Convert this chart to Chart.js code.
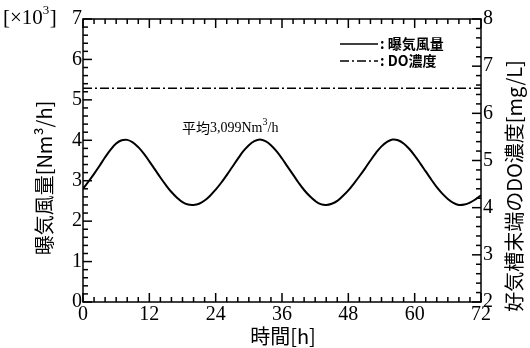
<!DOCTYPE html>
<html>
<head>
<meta charset="utf-8">
<script src="https://cdn.jsdelivr.net/npm/chart.js@4"></script>
<style>
  html, body { margin: 0; padding: 0; background: #fff; }
  #wrap { width: 530px; height: 348px; }
</style>
</head>
<body>
<div id="wrap"><canvas id="myChart" width="530" height="348"></canvas></div>
<script>
// 時間[h]
const hours = [0,1,2,3,4,5,6,7,8,9,10,11,12,13,14,15,16,17,18,19,20,21,22,23,24,
  25,26,27,28,29,30,31,32,33,34,35,36,37,38,39,40,41,42,43,44,45,46,47,48,
  49,50,51,52,53,54,55,56,57,58,59,60,61,62,63,64,65,66,67,68,69,70,71,72];
// 曝気風量 [x10^3 Nm3/h]
const airflow = [2.80,2.98,3.17,3.37,3.58,3.77,3.92,4.00,4.01,3.95,3.83,3.67,3.48,3.28,3.08,2.89,2.72,2.58,2.47,2.41,2.40,2.43,2.51,2.63,2.78,
  2.95,3.14,3.34,3.54,3.73,3.88,3.98,4.02,3.98,3.88,3.73,3.55,3.35,3.15,2.95,2.77,2.62,2.50,2.42,2.40,2.43,2.50,2.62,2.76,
  2.93,3.11,3.30,3.50,3.69,3.85,3.96,4.02,4.00,3.92,3.79,3.62,3.43,3.23,3.03,2.84,2.68,2.55,2.45,2.40,2.41,2.46,2.54,2.64];
// DO濃度 [mg/L]
const doHours = [0, 72];
const doConc = [6.53, 6.53];

const xTicks = [0, 12, 24, 36, 48, 60, 72];
const leftTicks = [0, 1, 2, 3, 4, 5, 6, 7];
const rightTicks = [2, 3, 4, 5, 6, 7, 8];

const serif = "'Liberation Serif', 'DejaVu Serif', serif";
const cjk = "'Noto Sans CJK JP', sans-serif";

function tickLine(c, x1, y1, x2, y2) {
  c.beginPath();
  c.moveTo(x1, y1);
  c.lineTo(x2, y2);
  c.stroke();
}

/*目盛り・枠・凡例・軸タイトル*/
const decor = {
  id: 'decor',
  afterDraw(chart) {
    const c = chart.ctx;
    const a = chart.chartArea;
    const x = chart.scales.x, yl = chart.scales.y, yr = chart.scales.y2;
    c.save();
    c.setLineDash([]);
    c.strokeStyle = '#000';
    c.fillStyle = '#000';
    c.lineWidth = 1.5;
    c.strokeRect(a.left, a.top, a.right - a.left, a.bottom - a.top);
    for (let k = 0; k <= 36; k++) {
      const px = x.getPixelForValue(k * 2);
      const len = (k % 6 === 0) ? 9 : 5;
      tickLine(c, px, a.bottom, px, a.bottom - len);
      tickLine(c, px, a.top, px, a.top + len);
    }
    for (let i = 0; i <= 35; i++) {
      const py = yl.getPixelForValue(i * 0.2);
      const len = (i % 5 === 0) ? 9 : 5;
      tickLine(c, a.left, py, a.left + len, py);
    }
    for (let i = 0; i <= 30; i++) {
      const py = yr.getPixelForValue(2 + i * 0.2);
      const len = (i % 5 === 0) ? 9 : 5;
      tickLine(c, a.right, py, a.right - len, py);
    }

    // 凡例
    const ds = chart.data.datasets;
    c.font = 'bold 14px ' + cjk;
    c.textBaseline = 'middle';
    const lx = 340, rows = [44, 61];
    ds.forEach((d, i) => {
      c.lineWidth = 1.5;
      c.setLineDash(d.borderDash || []);
      tickLine(c, lx, rows[i], lx + 38, rows[i]);
      c.setLineDash([]);
      c.fillText(': ' + d.label, lx + 40, rows[i]);
    });

    // 平均
    let tx = 182;
    const ty = 128;
    c.font = '14px ' + cjk;
    c.fillText('平均', tx, ty);
    tx += c.measureText('平均').width;
    c.font = '14px ' + serif;
    c.fillText('3,099Nm', tx, ty);
    tx += c.measureText('3,099Nm').width;
    c.font = '10px ' + serif;
    c.fillText('3', tx, ty - 6);
    tx += c.measureText('3').width;
    c.font = '14px ' + serif;
    c.fillText('/h', tx, ty);

    // [×10³]
    c.font = '21px ' + serif;
    c.textBaseline = 'alphabetic';
    c.fillText('[×10', 3, 24);
    const w = c.measureText('[×10').width;
    c.font = '13px ' + serif;
    c.fillText('3', 3 + w, 14);
    c.font = '21px ' + serif;
    c.fillText(']', 3 + w + 7, 24);

    // 軸タイトル
    c.textAlign = 'center';
    c.textBaseline = 'middle';
    c.font = '20px ' + cjk;
    c.fillText('時間[h]', 283, 336);
    c.save();
    c.translate(44, 178);
    c.rotate(-Math.PI / 2);
    c.fillText('曝気風量[Nm³/h]', 0, 0);
    c.restore();
    c.save();
    c.translate(514, 186);
    c.rotate(-Math.PI / 2);
    c.fillText('好気槽末端のDO濃度[mg/L]', 0, 0);
    c.restore();
    c.restore();
  }
};

const ctx1 = document.getElementById('myChart').getContext('2d');

const config1 = {
  type: 'line',
  data: {
    datasets: [
      {
        label: '曝気風量',
        data: hours.map((h, i) => ({ x: h, y: airflow[i] })),
        borderColor: '#000',
        borderWidth: 2,
        pointRadius: 0,
        tension: 0.4,
        yAxisID: 'y',
      },
      {
        label: 'DO濃度',
        data: doHours.map((h, i) => ({ x: h, y: doConc[i] })),
        borderColor: '#000',
        borderWidth: 1.5,
        borderDash: [9, 3, 2, 3],
        pointRadius: 0,
        yAxisID: 'y2',
      },
    ],
  },
  options: {
    responsive: false,
    animation: false,
    layout: { padding: { top: 19, right: 0, left: 0, bottom: 0 } },
    plugins: { legend: { display: false }, tooltip: { enabled: false } },
    scales: {
      x: {
        type: 'linear', min: 0, max: 72,
        afterFit(s) { s.height = 46; },
        afterBuildTicks(s) { s.ticks = xTicks.map(v => ({ value: v })); },
        grid: { display: false, drawTicks: false },
        border: { display: false },
        ticks: { color: '#000', padding: 1, font: { family: serif, size: 20 }, maxRotation: 0 },
      },
      y: {
        position: 'left', min: 0, max: 7,
        afterFit(s) { s.width = 83; },
        afterBuildTicks(s) { s.ticks = leftTicks.map(v => ({ value: v })); },
        grid: { display: false, drawTicks: false },
        border: { display: false },
        ticks: { color: '#000', padding: 1, font: { family: serif, size: 20 } },
      },
      y2: {
        position: 'right', min: 2, max: 8,
        afterFit(s) { s.width = 49; },
        afterBuildTicks(s) { s.ticks = rightTicks.map(v => ({ value: v })); },
        grid: { display: false, drawTicks: false },
        border: { display: false },
        ticks: { color: '#000', padding: 2, font: { family: serif, size: 20 } },
      },
    },
  },
  plugins: [decor],
};

const myChart1 = new Chart(ctx1, config1);
</script>
</body>
</html>
